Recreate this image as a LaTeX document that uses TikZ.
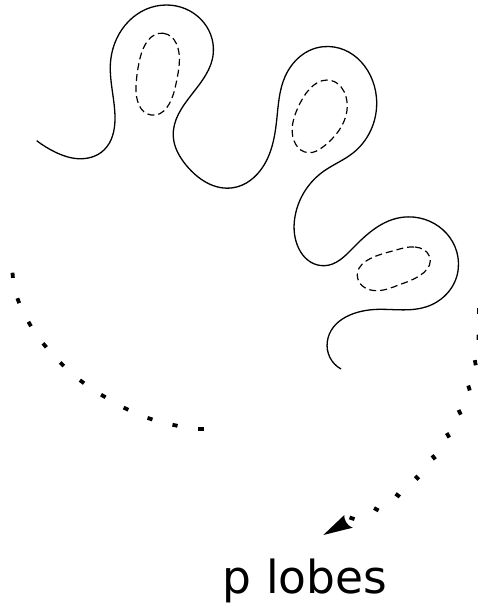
\documentclass[tikz,border=0pt]{standalone}
\usepackage{fontspec}
\setmainfont{DejaVu Sans}
\usetikzlibrary{hobby}
\begin{document}
\begin{tikzpicture}[x=1pt,y=-1pt,
  lobe/.style={draw=black,line width=1.3pt,line join=round},
  hole/.style={draw=black,line width=1.2pt,dash pattern=on 7pt off 4pt},
  dotmark/.style={fill=black}]
\useasboundingbox (0,0) rectangle (478,604);
\draw[lobe,use Hobby shortcut] (36.7,140.7) .. (55,152) .. (78,158.7) .. (104,150) .. (115,118) .. (110.7,60)
 .. (166.7,5) .. (213.3,53) .. (173.3,136.7) .. (186,165) .. (233.3,187.7) .. (263,166.7) .. (276.7,120) .. (285,76.7)
 .. (323.3,46.7) .. (376.7,103.3) .. (353,153) .. (323,171.7) .. (294.3,221.7) .. (324,265.7) .. (353,248)
 .. (402.3,217.3) .. (458.3,268.3) .. (426.7,306.7) .. (380,309.3) .. (327.3,341.7) .. (341,369);
\draw[hole,use Hobby shortcut,closed=true] (163.3,33.3) .. (179.3,63.3) .. (175,88.3) .. (151,115) .. (136,86.7) .. (140,58.3);
\draw[hole,use Hobby shortcut,closed=true] (331.7,80.7) .. (346,96.7) .. (323.3,146.7) .. (308.3,152.7) .. (292.3,126.7) .. (300,103.3);
\draw[hole,use Hobby shortcut,closed=true] (415,247) .. (429.3,256) .. (403.3,283.3) .. (376.7,290.7) .. (357.7,278.3) .. (390,251.7);
\foreach \px/\py/\ang in {12.7/275.3/-85,18.3/300.7/-70,29.7/324/-60,44.7/345.3/-50,62/364.3/-45,82/381.7/-37,103.3/396/-30,126/408.7/-25,150/418.7/-18,175/425.3/-12,201/428.7/0,
 478.5/311/-90,478.5/337.3/-88,475.3/362.7/-80,469/388/-72,459.7/412.3/-65,448/435.3/-60,433.7/457.3/-52,417/477.7/-45,397.7/495.3/-37,376.3/509.3/-28,352/518.3/-18}
  \fill[dotmark,shift={(\px,\py)},rotate=\ang] (-2.6,-1.9) rectangle (2.6,1.9);
\coordinate (tip) at (323.3,535);
\coordinate (wingA) at (344.3,515);
\coordinate (wingB) at (352.7,527.7);
\fill[black] (tip) -- (wingA) .. controls (344,519) and (346,525) .. (wingB) -- cycle;
\node[anchor=base,inner sep=0pt,font=\fontsize{45.5}{54}\selectfont] (label) at (305,593) {p lobes};
\end{tikzpicture}
\end{document}
